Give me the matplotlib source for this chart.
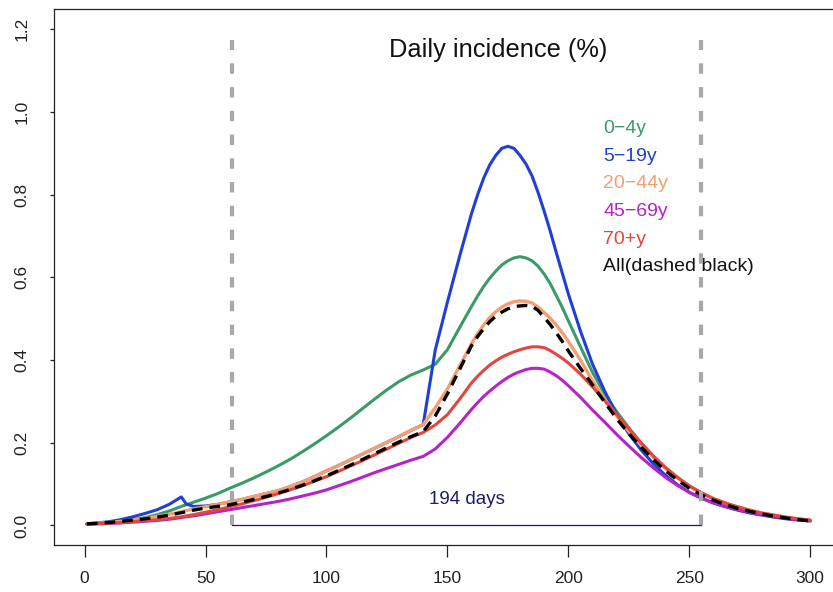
import matplotlib
matplotlib.use("Agg")
import matplotlib.pyplot as plt

plt.rcParams['font.family'] = ['Liberation Sans', 'DejaVu Sans']

# jours de simulation (pas plus fin autour du pic)
days = [1, 5, 10, 15, 20, 25, 30, 35, 40, 42,
        45, 50, 55, 60, 65, 70, 75, 80, 85, 90,
        95, 100, 105, 110, 115, 120, 125, 130, 135, 140,
        145, 150, 155, 160, 162.5, 165, 167.5, 170,
        172.5, 175, 177.5, 180, 182.5, 185, 187.5, 190, 192.5, 195, 197.5, 200,
        205, 210, 215, 220, 225, 230, 235, 240, 245, 250,
        255, 260, 265, 270, 275, 280, 285, 290, 295, 300]

# incidence journalière (%) par classe d'âge
inc_0_4 = [0.004, 0.005, 0.007, 0.010, 0.014, 0.019, 0.026, 0.035, 0.046, 0.050,
           0.056, 0.066, 0.077, 0.090, 0.102, 0.115, 0.129, 0.144, 0.160, 0.178,
           0.197, 0.217, 0.238, 0.260, 0.283, 0.306, 0.328, 0.348, 0.364, 0.376,
           0.390, 0.425, 0.478, 0.530, 0.555, 0.578, 0.598, 0.615,
           0.630, 0.640, 0.647, 0.650, 0.647, 0.640, 0.627, 0.608, 0.585, 0.556, 0.527, 0.495,
           0.432, 0.370, 0.318, 0.275, 0.236, 0.200, 0.168, 0.140, 0.116, 0.095,
           0.078, 0.064, 0.052, 0.043, 0.035, 0.029, 0.023, 0.018, 0.015, 0.012]
inc_5_19 = [0.004, 0.006, 0.009, 0.014, 0.021, 0.029, 0.038, 0.051, 0.069, 0.052,
            0.046, 0.047, 0.051, 0.057, 0.063, 0.070, 0.077, 0.084, 0.094, 0.105,
            0.118, 0.132, 0.145, 0.159, 0.173, 0.187, 0.201, 0.215, 0.230, 0.244,
            0.425, 0.540, 0.650, 0.755, 0.800, 0.840, 0.872, 0.895,
            0.912, 0.917, 0.912, 0.895, 0.874, 0.845, 0.805, 0.760, 0.712, 0.660, 0.610, 0.560,
            0.470, 0.390, 0.325, 0.268, 0.222, 0.183, 0.150, 0.122, 0.099, 0.080,
            0.066, 0.054, 0.045, 0.037, 0.030, 0.025, 0.020, 0.016, 0.013, 0.011]
inc_20_44 = [0.004, 0.005, 0.007, 0.010, 0.013, 0.017, 0.022, 0.027, 0.033, 0.036,
             0.040, 0.045, 0.051, 0.057, 0.063, 0.070, 0.077, 0.084, 0.094, 0.105,
             0.118, 0.132, 0.145, 0.159, 0.173, 0.187, 0.201, 0.215, 0.230, 0.244,
             0.285, 0.330, 0.385, 0.440, 0.464, 0.485, 0.503, 0.517,
             0.528, 0.536, 0.541, 0.543, 0.542, 0.538, 0.528, 0.515, 0.501, 0.485, 0.466, 0.445,
             0.400, 0.350, 0.305, 0.265, 0.228, 0.195, 0.165, 0.138, 0.115, 0.095,
             0.078, 0.065, 0.054, 0.045, 0.037, 0.030, 0.025, 0.020, 0.016, 0.012]
inc_45_69 = [0.003, 0.004, 0.005, 0.006, 0.008, 0.010, 0.012, 0.015, 0.019, 0.021,
             0.023, 0.028, 0.033, 0.038, 0.043, 0.048, 0.053, 0.058, 0.064, 0.071,
             0.078, 0.086, 0.096, 0.106, 0.117, 0.128, 0.138, 0.148, 0.158, 0.167,
             0.185, 0.213, 0.246, 0.281, 0.297, 0.312, 0.325, 0.337,
             0.348, 0.358, 0.366, 0.372, 0.377, 0.380, 0.380, 0.378, 0.371, 0.362, 0.351, 0.338,
             0.310, 0.279, 0.250, 0.220, 0.192, 0.165, 0.140, 0.117, 0.097, 0.080,
             0.066, 0.055, 0.046, 0.038, 0.031, 0.026, 0.021, 0.017, 0.014, 0.011]
inc_70 = [0.003, 0.004, 0.005, 0.007, 0.009, 0.012, 0.014, 0.017, 0.021, 0.023,
          0.026, 0.032, 0.038, 0.045, 0.052, 0.060, 0.068, 0.077, 0.086, 0.096,
          0.107, 0.118, 0.131, 0.144, 0.157, 0.171, 0.185, 0.199, 0.213, 0.225,
          0.243, 0.268, 0.305, 0.345, 0.361, 0.375, 0.388, 0.398,
          0.407, 0.414, 0.420, 0.425, 0.429, 0.432, 0.432, 0.430, 0.423, 0.414, 0.404, 0.393,
          0.366, 0.335, 0.302, 0.268, 0.234, 0.200, 0.169, 0.141, 0.117, 0.096,
          0.079, 0.065, 0.054, 0.045, 0.037, 0.030, 0.025, 0.020, 0.016, 0.013]
inc_all = [0.004, 0.005, 0.007, 0.010, 0.013, 0.016, 0.020, 0.025, 0.031, 0.033,
           0.037, 0.042, 0.046, 0.050, 0.056, 0.063, 0.070, 0.078, 0.087, 0.097,
           0.108, 0.120, 0.133, 0.146, 0.160, 0.174, 0.188, 0.202, 0.215, 0.227,
           0.265, 0.318, 0.377, 0.435, 0.457, 0.476, 0.493, 0.506,
           0.516, 0.524, 0.529, 0.531, 0.532, 0.530, 0.520, 0.503, 0.486, 0.466, 0.445, 0.422,
           0.380, 0.340, 0.298, 0.258, 0.222, 0.190, 0.160, 0.133, 0.110, 0.090,
           0.074, 0.061, 0.050, 0.041, 0.034, 0.028, 0.022, 0.018, 0.014, 0.011]

age_labels = ["0\u22124y", "5\u221219y", "20\u221244y", "45\u221269y", "70+y", "All(dashed black)"]
age_colors = ["#3a9a68", "#1f3fd6", "#f2a072", "#b424c8", "#e4463e", "#111111"]

# début et fin de la période épidémique
start_day = 61
end_day = 255
duration_label = "194 days"

fig = plt.figure(figsize=(8.33, 5.92), dpi=100)
ax = fig.add_axes([0.0652, 0.0789, 0.9438, 0.9052])

# courbes par âge (dessinées dans l'ordre)
style = dict(solid_joinstyle="round", solid_capstyle="round", zorder=3)
ax.plot(days, inc_0_4, color=age_colors[0], lw=2.2, **style)
ax.plot(days, inc_5_19, color=age_colors[1], lw=2.2, **style)
ax.plot(days, inc_20_44, color=age_colors[2], lw=2.4, **style)
ax.plot(days, inc_45_69, color=age_colors[3], lw=2.2, **style)
ax.plot(days, inc_70, color=age_colors[4], lw=2.2, **style)
ax.plot(days, inc_all, color="black", lw=2.4, linestyle=(0, (3.2, 2.1)), zorder=4)

# période de 194 jours
for d in (start_day, end_day):
    ax.plot([d, d], [0, 1.173], color="#a8a8a8", lw=3, linestyle=(0, (2.5, 3.2)), zorder=5)
ax.plot([start_day, end_day], [0, 0], color="#1c1c5e", lw=0.9, zorder=2)
ax.text((start_day + end_day) / 2, 0.062, duration_label, color="#1c1c6e",
        fontsize=13.5, ha="center", va="center")

ax.text(171, 1.15, "Daily incidence (%)", fontsize=18.3, ha="center", va="center",
        color="#111111")

# légende en texte coloré
leg_y = [0.948, 0.881, 0.815, 0.748, 0.681, 0.615]
for lab, col, yy in zip(age_labels, age_colors, leg_y):
    ax.text(214.5, yy, lab, color=col, fontsize=14, ha="left", va="baseline")

ax.set_xlim(-12.5, 312.5)
ax.set_ylim(-0.048, 1.248)
ax.set_xticks([0, 50, 100, 150, 200, 250, 300])
ax.set_yticks([0.0, 0.2, 0.4, 0.6, 0.8, 1.0, 1.2])
ax.set_yticklabels(["0.0", "0.2", "0.4", "0.6", "0.8", "1.0", "1.2"])
ax.tick_params(axis="x", length=8.5, width=0.9, pad=10, labelsize=12.5, colors="#222222")
ax.tick_params(axis="y", length=3, width=0.9, pad=15, labelsize=12.5, colors="#222222")
plt.setp(ax.get_yticklabels(), rotation=90, va="center")
for s in ax.spines.values():
    s.set_linewidth(0.9)
    s.set_color("#222222")

plt.savefig("out.png", dpi=100)
plt.close()
